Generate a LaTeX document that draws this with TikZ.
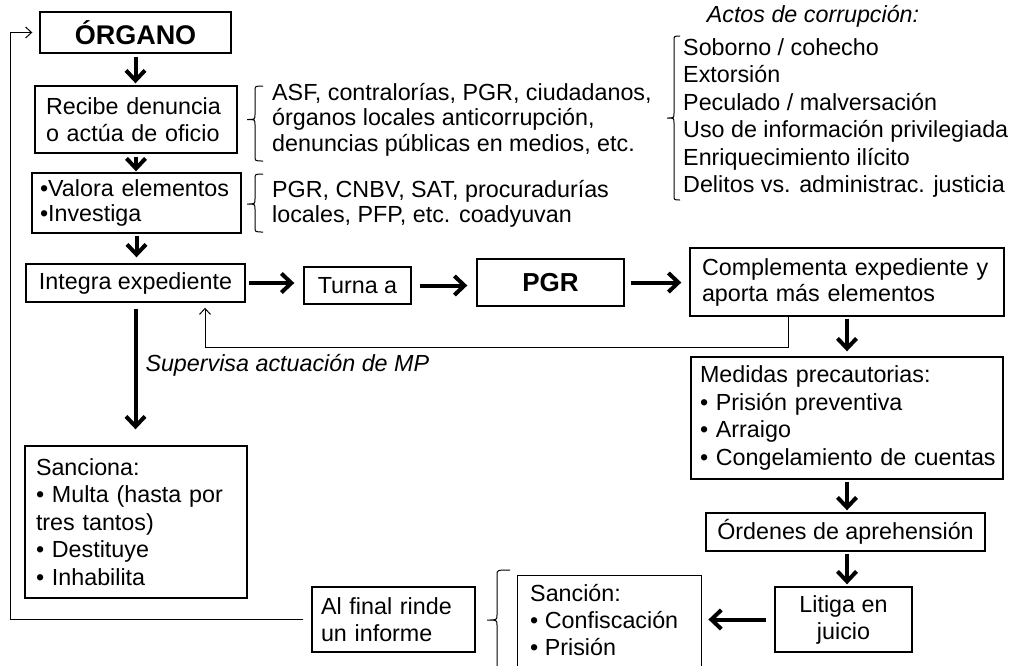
\documentclass[tikz,border=0pt]{standalone}
\usepackage{fontspec}
\setmainfont{Liberation Sans}
\usetikzlibrary{arrows.meta}
\newcommand{\nbx}[1]{\mbox{#1}}
% side brace: #1 x of hook ends, #2 x of vertical bar, #3 x of tip, #4 y top, #5 y tip, #6 y bottom
\newcommand{\sidebrace}[6]{%
  \draw[bracebar] (#1,#4) .. controls (#2,#4) .. (#2,#4+5) -- (#2,#5-5)
     .. controls (#2,#5) .. (#3,#5) .. controls (#2,#5) .. (#2,#5+5)
     -- (#2,#6-5) .. controls (#2,#6) .. (#1,#6);}
\begin{document}
\begin{tikzpicture}[x=1pt,y=-1pt,
  every node/.style={font=\fontsize{23.3}{26}\selectfont},
  box/.style={draw, line width=1.4pt, inner ysep=0pt},
  lbox/.style={box, align=left},
  cbox/.style={box, align=center},
  bigarrow/.style={line width=4pt, -{Straight Barb[length=10pt,width=19pt]}},
  fbarrow/.style={line width=1pt, -{Straight Barb[length=6pt,width=11pt]}},
  bracebar/.style={line width=1pt},
  plain/.style={inner sep=0pt, align=left},
  sp27/.style={font=\fontsize{23.3}{27.5}\selectfont},
]
\useasboundingbox (0,0) rectangle (1016,665);
\clip (0,0) rectangle (1016,665);

% ---------- left column ----------
\node[cbox, minimum width=191pt, minimum height=41pt, font=\fontsize{27}{30}\selectfont\bfseries] (organo) at (135.5,32.5) {ÓRGANO};

\node[lbox, minimum width=202pt, minimum height=67pt, text width=180pt, inner xsep=11pt, font=\fontsize{23.3}{27}\selectfont] (recibe) at (136,119.5) {\nbx{Recibe denuncia}\\\nbx{o actúa de oficio}};

\node[lbox, minimum width=209pt, minimum height=60pt, text width=193pt, inner xsep=8pt, font=\fontsize{23.3}{24.5}\selectfont] (valora) at (136.5,203) {\nbx{•Valora elementos}\\•Investiga};

\node[cbox, minimum width=219pt, minimum height=38pt] (integra) at (135.5,283) {Integra expediente};

\node[cbox, minimum width=107pt, minimum height=37pt] (turna) at (357.5,285.5) {Turna a};

\node[cbox, minimum width=147pt, minimum height=47pt, font=\fontsize{26}{30}\selectfont\bfseries] (pgr) at (550.5,282.5) {PGR};

\node[lbox, minimum width=314pt, minimum height=68pt, text width=290pt, inner xsep=12pt, font=\fontsize{23.3}{26}\selectfont] (comp) at (847,282) {\nbx{Complementa expediente y}\\\nbx{aporta más elementos}};

\node[lbox, minimum width=312pt, minimum height=122pt, text width=294pt, inner xsep=9pt, sp27] (medidas) at (847,418) {Medidas precautorias:\\• Prisión preventiva\\• Arraigo\\\nbx{• Congelamiento de cuentas}};

\node[cbox, minimum width=279pt, minimum height=38pt] (ordenes) at (845.5,532) {Órdenes de aprehensión};

\node[cbox, minimum width=137pt, minimum height=65pt, font=\fontsize{23.3}{27}\selectfont] (litiga) at (843.5,619.5) {Litiga en\\juicio};

\node[box, anchor=north west, minimum width=184pt, minimum height=125pt] (sancion) at (517,575) {};
\node[plain, anchor=west, font=\fontsize{23.3}{27}\selectfont] (sanciontxt) at (530,620) {Sanción:\\• Confiscación\\• Prisión};

\node[lbox, minimum width=163pt, minimum height=65pt, text width=145pt, inner xsep=9pt, font=\fontsize{23.3}{27}\selectfont] (alfinal) at (393.5,619.5) {Al final rinde\\un informe};

\node[lbox, minimum width=222pt, minimum height=152pt, text width=200pt, inner xsep=11pt, sp27] (sanciona) at (136,522) {Sanciona:\\\nbx{• Multa (hasta por}\\tres tantos)\\• Destituye\\• Inhabilita};

% ---------- side texts ----------
\node[plain, anchor=west, font=\fontsize{23.3}{25.5}\selectfont] (fuentes) at (272,119.5) {ASF, contralorías, PGR, ciudadanos,\\órganos locales anticorrupción,\\denuncias públicas en medios, etc.};
\node[plain, anchor=west, font=\fontsize{23.3}{25}\selectfont] (coady) at (272,204) {PGR, CNBV, SAT, procuradurías\\locales, PFP, etc. coadyuvan};

\node[plain, font=\fontsize{23.3}{26}\selectfont\itshape] (actostit) at (813,16) {Actos de corrupción:};
\node[plain, anchor=west, sp27] (actos) at (683,118) {Soborno / cohecho\\Extorsión\\Peculado / malversación\\Uso de información privilegiada\\Enriquecimiento ilícito\\Delitos vs. administrac. justicia};

% ---------- braces ----------
\sidebrace{263}{255}{247}{86}{119.5}{161}
\sidebrace{263}{255}{247}{174}{204}{232}
\sidebrace{680}{674}{667}{36}{118}{200}
\sidebrace{510}{497}{487}{570}{620}{670}

% ---------- main arrows ----------
\draw[bigarrow, shorten <=3pt, shorten >=2pt] (organo.south) -- (organo.south |- recibe.north);
\draw[bigarrow, shorten <=3pt, shorten >=1pt] (recibe.south) -- (recibe.south |- valora.north);
\draw[bigarrow, shorten <=2pt, shorten >=6pt] (valora.south) -- (valora.south |- integra.north);
\draw[bigarrow, shorten <=3pt, shorten >=9pt] (integra.east) -- (integra.east -| turna.west);
\draw[bigarrow, shorten <=8pt, shorten >=9pt] (turna.east) -- (turna.east -| pgr.west);
\draw[bigarrow, shorten <=6pt, shorten >=8pt] (pgr.east) -- (pgr.east -| comp.west);
\draw[bigarrow, shorten <=2pt, shorten >=5pt] (comp.south) -- (comp.south |- medidas.north);
\draw[bigarrow, shorten <=2pt, shorten >=2pt] (medidas.south) -- (medidas.south |- ordenes.north);
\draw[bigarrow, shorten <=2pt, shorten >=2pt] (medidas.south |- ordenes.south) -- (medidas.south |- litiga.north);
\draw[bigarrow, shorten <=8pt, shorten >=6pt] (litiga.west) -- (litiga.west -| sancion.east);
\draw[bigarrow, shorten <=6pt, shorten >=16pt] (integra.south) -- (integra.south |- sanciona.north)
  node[pos=0.44, anchor=west, inner sep=0pt, xshift=8pt, font=\fontsize{23.3}{26}\selectfont\itshape] (superv) {Supervisa actuación de MP};

% ---------- feedback lines ----------
\coordinate (fbA) at (788,347);
\coordinate (fbB) at (205,347);
\draw[fbarrow] (comp.south -| fbA) -- (fbA) -- (fbB) -- ([yshift=-5pt]integra.south -| fbB);

\coordinate (lc) at (10,0);
\draw[fbarrow] ([xshift=-8pt]alfinal.west) -- (alfinal.west -| lc) |- ([xshift=-7pt]organo.west);
\end{tikzpicture}
\end{document}
